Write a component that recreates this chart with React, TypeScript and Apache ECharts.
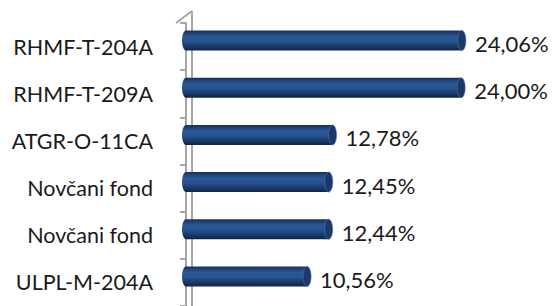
import React, { useEffect, useRef } from "react";
import * as echarts from "echarts";

const categories = [
  "RHMF-T-204A",
  "RHMF-T-209A",
  "ATGR-O-11CA",
  "Novčani fond",
  "Novčani fond",
  "ULPL-M-204A",
];
const values = [24.06, 24.0, 12.78, 12.45, 12.44, 10.56];

const FONT = "Lato";

export default function App() {
  const ref = useRef<HTMLDivElement>(null);
  useEffect(() => {
    document.body.style.margin = "0";
    const chart = echarts.init(ref.current!, null, { renderer: "svg" });
    const barGrad = new echarts.graphic.LinearGradient(0, 0, 0, 1, [
      { offset: 0, color: "#16305a" },
      { offset: 0.3, color: "#2a5898" },
      { offset: 0.55, color: "#27528e" },
      { offset: 1, color: "#0f2446" },
    ]);
    chart.setOption({
      animation: false,
      grid: { left: 186, top: 23, width: 344, height: 294 },
      xAxis: { type: "value", min: 0, max: 30, show: false },
      yAxis: {
        type: "category",
        data: categories,
        inverse: true,
        offset: 10,
        axisLine: { show: true, lineStyle: { color: "#a6a6a6", width: 2 } },
        axisTick: { show: true, length: 6, lineStyle: { color: "#a6a6a6", width: 2 } },
        axisLabel: { margin: 23, color: "#1a1a1a", fontFamily: FONT, fontSize: 21.5 },
        splitLine: { show: false },
      },
      graphic: [
        {
          type: "line",
          z: 0,
          shape: { x1: 192, y1: 11, x2: 192, y2: 320 },
          style: { stroke: "#a6a6a6", lineWidth: 2 },
        },
        {
          type: "line",
          z: 0,
          shape: { x1: 176, y1: 23, x2: 192, y2: 11 },
          style: { stroke: "#a6a6a6", lineWidth: 2 },
        },
      ],
      series: [
        {
          type: "custom",
          z: 5,
          data: values.map((v, i) => [v, i]),
          encode: { x: 0, y: 1 },
          renderItem: (params: any, api: any) => {
            const v = api.value(0);
            const i = api.value(1);
            const p0 = api.coord([0, i]);
            const p1 = api.coord([v, i]);
            const cy = p0[1] - 6;
            const h = 20;
            const rx = 4;
            const x0 = p0[0];
            const x1 = p1[0];
            return {
              type: "group",
              children: [
                {
                  type: "ellipse",
                  shape: { cx: x0, cy, rx, ry: h / 2 },
                  style: { fill: barGrad },
                },
                {
                  type: "rect",
                  shape: { x: x0, y: cy - h / 2, width: x1 - x0, height: h },
                  style: { fill: barGrad },
                },
                {
                  type: "ellipse",
                  shape: { cx: x1, cy, rx, ry: h / 2 },
                  style: { fill: "#1c3866", stroke: "#4a74b0", lineWidth: 0.6 },
                },
                {
                  type: "text",
                  style: {
                    x: x1 + rx + 9,
                    y: cy + 3,
                    text: v.toFixed(2).replace(".", ",") + "%",
                    fill: "#1a1a1a",
                    font: `22px ${FONT}`,
                    textAlign: "left",
                    textVerticalAlign: "middle",
                  },
                },
              ],
            };
          },
        },
      ],
    });
    return () => chart.dispose();
  }, []);
  return <div ref={ref} style={{ width: 553, height: 306 }} />;
}
